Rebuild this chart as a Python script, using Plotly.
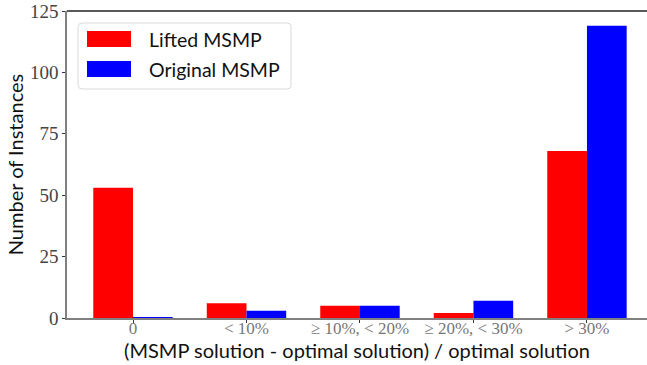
import plotly.graph_objects as go

categories = ["0", "< 10%", "≥ 10%, < 20%", "≥ 20%, < 30%", "> 30%"]
lifted = [53, 6, 5, 2, 68]
original = [0.3, 3, 5, 7, 119]
series_names = ["Lifted MSMP", "Original MSMP"]
series_colors = ["#ff0000", "#0000ff"]
y_ticks = [0, 25, 50, 75, 100, 125]

W, H = 647, 365
L, R, T, B = 67, 0, 11, 47
PW, PH = W - L - R, H - T - B

def px(x):
    return (x - L) / PW

def py(y):
    return (H - B - y) / PH

xpos = list(range(len(categories)))
fig = go.Figure()
fig.add_trace(go.Bar(x=xpos, y=lifted, width=0.35, offset=-0.35,
                     marker=dict(color=series_colors[0], line=dict(width=0)),
                     name=series_names[0], showlegend=False))
fig.add_trace(go.Bar(x=xpos, y=original, width=0.35, offset=0,
                     marker=dict(color=series_colors[1], line=dict(width=0)),
                     name=series_names[1], showlegend=False))

shapes = []
annotations = []
# top spine
shapes.append(dict(type="line", xref="paper", yref="paper", x0=0, x1=1, y0=1, y1=1,
                   line=dict(color="#222222", width=1.3)))
# legend box (rounded)
x0, x1, y0, y1 = px(78), px(291), py(89), py(23)
rx, ry = 4 / PW, 4 / PH
path = (f"M {x0+rx},{y0} L {x1-rx},{y0} Q {x1},{y0} {x1},{y0+ry} "
        f"L {x1},{y1-ry} Q {x1},{y1} {x1-rx},{y1} L {x0+rx},{y1} "
        f"Q {x0},{y1} {x0},{y1-ry} L {x0},{y0+ry} Q {x0},{y0} {x0+rx},{y0} Z")
shapes.append(dict(type="path", xref="paper", yref="paper", path=path,
                   line=dict(color="#d9d9d9", width=1), fillcolor="rgba(255,255,255,0.85)"))
for i, (name, col) in enumerate(zip(series_names, series_colors)):
    top = 31 + 30 * i
    shapes.append(dict(type="rect", xref="paper", yref="paper",
                       x0=px(87), x1=px(131), y0=py(top + 16), y1=py(top),
                       line=dict(width=0), fillcolor=col))
    annotations.append(dict(text=name, xref="paper", yref="paper", x=px(147), y=py(top + 8),
                            xanchor="left", yanchor="middle", showarrow=False,
                            font=dict(family="Lato", size=19.5, color="#111111")))

fig.update_layout(
    width=W, height=H,
    margin=dict(l=L, r=R, t=T, b=B),
    plot_bgcolor="white", paper_bgcolor="white",
    barmode="overlay",
    shapes=shapes, annotations=annotations,
    xaxis=dict(range=[-0.5815, 4.529], tickvals=xpos, ticktext=categories,
               showline=True, linecolor="#808080", linewidth=1.5,
               ticks="outside", ticklen=3, tickcolor="#333333", tickwidth=1,
               ticklabelstandoff=-9,
               showgrid=False, zeroline=False,
               tickfont=dict(family="Liberation Serif", size=17, color="#777777"),
               title=dict(text="(MSMP solution - optimal solution) / optimal solution",
                          font=dict(family="Lato", size=20, color="#111111"), standoff=0)),
    yaxis=dict(range=[0, 125], tickvals=y_ticks,
               showline=True, linecolor="#808080", linewidth=1.5,
               ticks="outside", ticklen=3, tickcolor="#333333", tickwidth=1,
               showgrid=False, zeroline=False,
               tickfont=dict(family="Liberation Serif", size=19, color="#444444"),
               title=dict(text="Number of Instances",
                          font=dict(family="Lato", size=20, color="#111111"), standoff=1)),
)

fig.write_html("out.html")
